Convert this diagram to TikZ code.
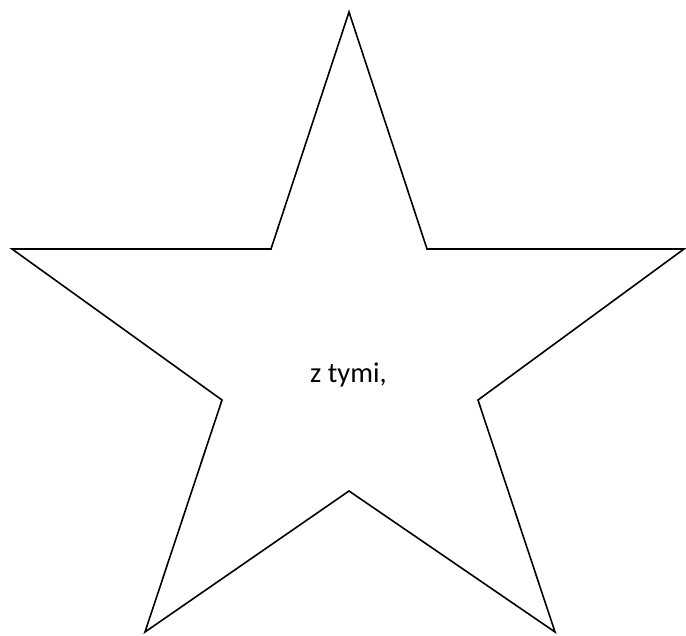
\documentclass[tikz,border=0pt]{standalone}
\usepackage{fontspec}
\setmainfont{Carlito}
\usetikzlibrary{calc}
\begin{document}
\begin{tikzpicture}[x=1pt,y=-1pt,
  outline/.style={draw=black,line width=1.6pt,line join=miter,miter limit=20},
  lab/.style={font=\fontsize{28.5}{32}\selectfont,inner sep=0pt}]
  \useasboundingbox (0,0) rectangle (686,636);
  % star corners, clockwise from the top
  \coordinate (top) at (349,12);
  \coordinate (in1) at (427,249);
  \coordinate (right) at (684,249);
  \coordinate (in2) at (478,400);
  \coordinate (botR) at (555,632);
  \coordinate (in3) at (349,491);
  \coordinate (botL) at (145,632);
  \coordinate (in4) at (222,400);
  \coordinate (left) at (12,249);
  \coordinate (in5) at (271,249);
  \draw[outline] (top) -- (in1) -- (right) -- (in2) -- (botR) -- (in3)
    -- (botL) -- (in4) -- (left) -- (in5) -- cycle;
  \node[lab,anchor=base] (txt) at (348.5,383) {z tymi,};
\end{tikzpicture}
\end{document}
